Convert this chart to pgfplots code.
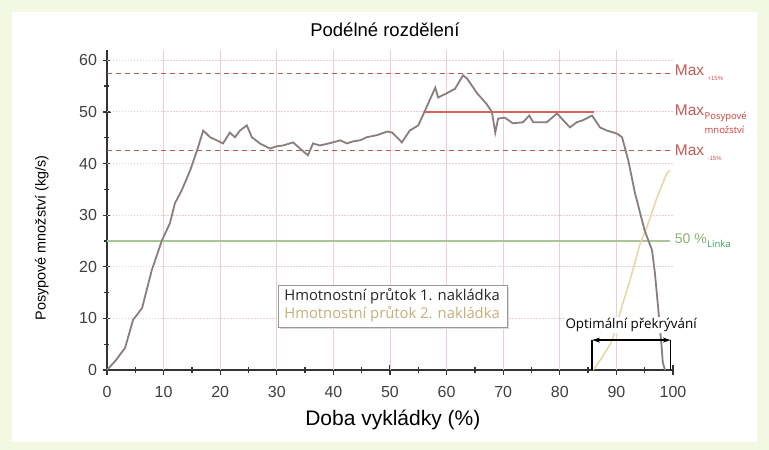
\documentclass[border=0pt]{standalone}
\usepackage{fontspec}
\setmainfont{Liberation Sans}
\newfontfamily\osans{Open Sans}
\usepackage{pgfplots}
\pgfplotsset{compat=1.18}
\usetikzlibrary{arrows.meta}
\definecolor{bgout}{HTML}{F3F8E2}
\definecolor{gridpink}{HTML}{EBCFCF}
\definecolor{maxred}{HTML}{B85A55}
\definecolor{maxtxt}{HTML}{C45A55}
\definecolor{solidred}{HTML}{E0605A}
\definecolor{curveA}{HTML}{8A7E7C}
\definecolor{curveB}{HTML}{E6D5A6}
\definecolor{linegreen}{HTML}{A8C695}
\definecolor{lblgreen}{HTML}{86B46E}
\definecolor{linkagreen}{HTML}{2BA35B}
\definecolor{legtan}{HTML}{C8AE78}
\definecolor{subred}{HTML}{C9403A}
\begin{document}
\begin{tikzpicture}
\fill[bgout] (-107pt,-80pt) rectangle (662pt,370pt);
\fill[white] (-95pt,-72pt) rectangle (650pt,358pt);
\begin{axis}[
  at={(0pt,0pt)}, anchor=origin,
  scale only axis, width=566pt, height=320pt,
  xmin=0, xmax=100, ymin=0, ymax=62,
  axis lines=left, axis line style={-, line width=1.7pt, draw=black!80},
  xtick={0,10,...,100}, ytick={0,10,...,60},
  minor xtick={5,15,...,95}, minor ytick={5,15,...,55},
  tick align=center, major tick length=9pt, minor tick length=5pt,
  every tick/.style={line width=1.3pt, black!80},
  tick label style={font=\fontsize{16}{18}\selectfont, text=black!75},
  xticklabel style={yshift=-8pt},
  yticklabel style={xshift=-2pt},
  /pgf/number format/assume math mode=true,
  clip=false,
]
\pgfplotsinvokeforeach{10,20,30,40,50,60,70,80,90}{
  \draw[gridpink, line width=0.8pt] (axis cs:#1,0) -- (axis cs:#1,62);
}
\pgfplotsinvokeforeach{10,20,30,40,50,60}{
  \draw[gridpink, line width=1pt, dash pattern=on 1.5pt off 1.5pt] (axis cs:0,#1) -- (axis cs:100,#1);
}
\addplot[maxred, line width=1.4pt, dash pattern=on 5pt off 4pt] coordinates {(0,57.5) (99.5,57.5)};
\addplot[maxred, line width=1.4pt, dash pattern=on 5pt off 4pt] coordinates {(0,42.5) (99.5,42.5)};
\addplot[linegreen, line width=2pt] coordinates {(0,25) (99.5,25)};
\addplot[solidred, line width=2pt] coordinates {(56,50) (86,50)};
\addplot[curveB, line width=1.5pt] coordinates {
(85.9,0) (87.2,2) (88.3,3.9) (88.9,5) (89.4,6.2) (90.6,11) (92.4,17.4) (94.2,24.5) (95.4,27.7) (97.2,33.5) (98.9,38.1) (99.5,38.7)};
\addplot[curveA, line width=1.8pt] coordinates {
(0,0) (1.5,1.8) (3.2,4.3) (4.6,9.7) (6.2,12) (7.9,19.3) (9.7,25.1) (11.1,28.4) (12,32.3) (13.2,34.8) (14.7,38.7) (15.9,42.5) (17,46.4) (18.2,45.1) (19.4,44.5) (20.5,43.9) (21.7,46.0) (22.6,45.1) (23.5,46.4) (24.7,47.4) (25.6,45.1) (27,43.9) (28.8,42.9) (29.8,43.3) (31.1,43.5) (32.9,44.1) (34.1,42.9) (35.5,41.6) (36.4,43.9) (37.6,43.5) (38.8,43.8) (39.9,44.1) (41.2,44.5) (42.4,43.9) (43.5,44.3) (44.7,44.5) (45.9,45.1) (47.7,45.5) (49.5,46.2) (50.4,46) (52.1,44.1) (53.5,46.4) (55,47.4) (56.2,50.3) (58,54.7) (58.5,52.8) (60,53.6) (61.5,54.5) (62.9,57.1) (63.6,56.5) (65.4,53.6) (67.1,51.5) (68,50) (68.6,46) (69.1,48.7) (70.3,48.9) (71.7,47.8) (73.5,48) (74.6,49.3) (75.3,48) (77.7,48) (79.5,49.7) (80.6,48.4) (81.8,47) (83,48) (84.1,48.4) (85.7,49.3) (87.1,47) (88.3,46.4) (90.1,45.8) (91,45.1) (92.1,40.6) (93.3,34.2) (95,27) (96.3,23.2) (96.8,18.8) (97.3,13) (98,4.4) (98.2,1.4) (98.6,0)};
% legend
\fill[black!15] (axis cs:30.5,8.0) rectangle (axis cs:71.0,16.1);
\draw[black!40, fill=white, line width=0.8pt] (axis cs:30.2,8.3) rectangle (axis cs:70.7,16.4);
\node[anchor=west, inner sep=0pt, font=\osans\fontsize{14.8}{16}\selectfont, text=black!85] at (axis cs:31.3,14.3) {Hmotnostní průtok 1. nakládka};
\node[anchor=west, inner sep=0pt, font=\osans\fontsize{14.8}{16}\selectfont, text=legtan] at (axis cs:31.3,10.8) {Hmotnostní průtok 2. nakládka};
% bracket
\draw[black, line width=1.3pt] (axis cs:85.7,0) -- (axis cs:85.7,5.8);
\draw[black, line width=1.3pt] (axis cs:99.6,0) -- (axis cs:99.6,5.8);
\draw[black, line width=1.3pt, {Stealth[length=8pt,width=5pt]}-{Stealth[length=8pt,width=5pt]}] (axis cs:85.7,5.8) -- (axis cs:99.6,5.8);
\node[fill=white, inner sep=1pt, font=\osans\fontsize{13.4}{15}\selectfont] at (axis cs:92.6,8.7) {Optimální překrývání};
% right labels
\node[anchor=west, inner sep=0pt, font=\fontsize{15.5}{17}\selectfont, text=maxtxt] (m1) at (axis cs:100.3,58) {Max};
\node[anchor=north west, inner sep=0pt, font=\fontsize{6}{7}\selectfont, text=maxtxt] at ([xshift=3pt]m1.south east) {+15\%};
\node[anchor=west, inner sep=0pt, font=\fontsize{15.5}{17}\selectfont, text=maxtxt] (m2) at (axis cs:100.3,50.3) {Max};
\node[anchor=north west, inner sep=0pt, align=left, font=\osans\fontsize{9.5}{14}\selectfont, text=subred] at ([yshift=4pt]m2.south east) {Posypové\\množství};
\node[anchor=west, inner sep=0pt, font=\fontsize{15.5}{17}\selectfont, text=maxtxt] (m3) at (axis cs:100.3,42.5) {Max};
\node[anchor=north west, inner sep=0pt, font=\fontsize{6}{7}\selectfont, text=maxtxt] at ([xshift=3pt]m3.south east) {-15\%};
\node[anchor=west, inner sep=0pt, font=\fontsize{14}{16}\selectfont, text=lblgreen] (g1) at (axis cs:100.3,25.5) {50 \%};
\node[anchor=north west, inner sep=0pt, font=\osans\fontsize{9.5}{11}\selectfont, text=linkagreen] at ([yshift=3pt]g1.south east) {Linka};
% title and labels
\node[font=\fontsize{18.5}{20}\selectfont] at (axis cs:49.1,65.9) {Podélné rozdělení};
\node[font=\fontsize{21}{23}\selectfont] at (axis cs:50.5,-9.7) {Doba vykládky (\%)};
\node[rotate=90, font=\fontsize{14.4}{16}\selectfont] at (axis cs:-11.5,25.6) {Posypové množství (kg/s)};
\end{axis}
\end{tikzpicture}
\end{document}
